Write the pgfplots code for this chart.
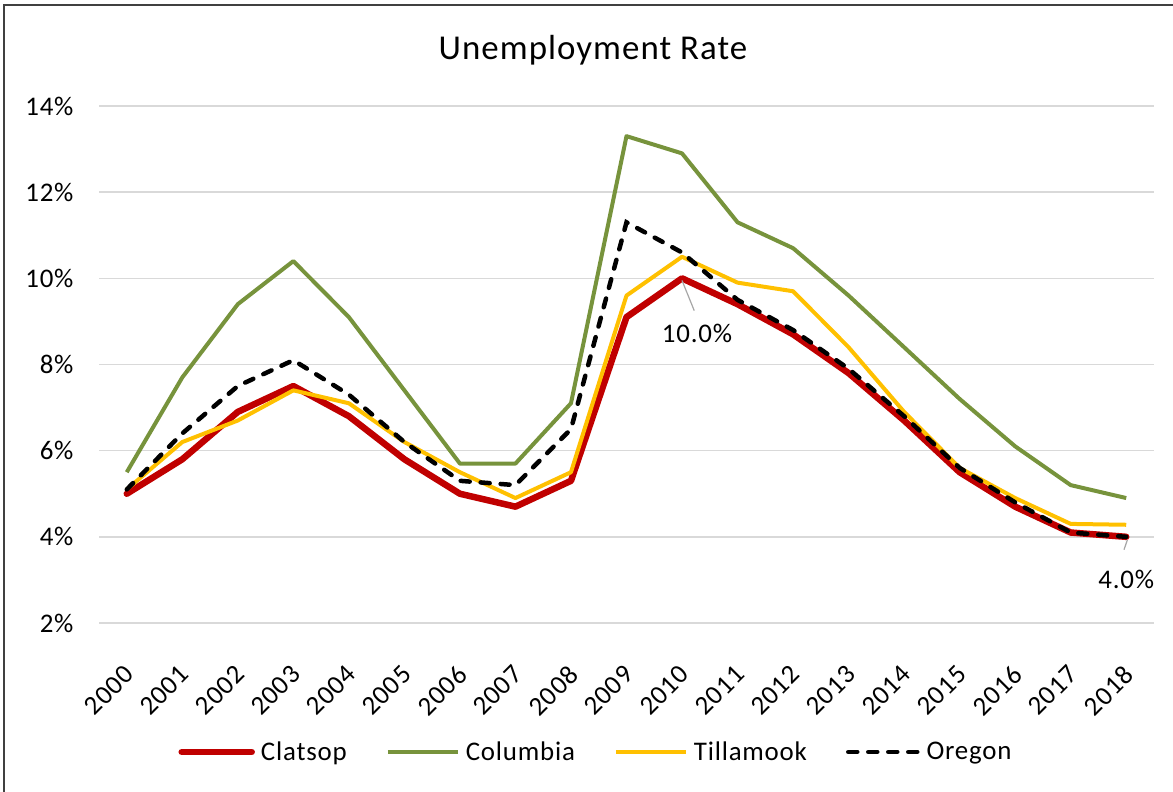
\documentclass[border=0pt]{standalone}
\usepackage{pgfplots}
\pgfplotsset{compat=1.18}
\usepackage{fontspec}
\setmainfont{Carlito}[LetterSpace=3]
\definecolor{cred}{HTML}{C00000}
\definecolor{cgreen}{HTML}{77933C}
\definecolor{cyellow}{HTML}{FFC000}
\definecolor{cgrid}{HTML}{D9D9D9}
\begin{document}
\begin{tikzpicture}
\useasboundingbox (0,0) rectangle (1173bp,792bp);
\draw[black!75, line width=1.6bp] (4bp,0) -- (4bp,787bp) -- (1173bp,787bp);
\node[font=\fontsize{35}{40}\selectfont] at (593bp,742bp) {Unemployment Rate};
\begin{axis}[
  at={(99bp,169bp)}, anchor=south west,
  scale only axis, width=1055bp, height=517bp,
  xmin=-0.5, xmax=18.5, ymin=2, ymax=14,
  axis line style={draw=none},
  ytick={2,4,...,14},
  yticklabels={2\%,4\%,6\%,8\%,10\%,12\%,14\%},
  xtick={0,...,18},
  xticklabels={2000,2001,2002,2003,2004,2005,2006,2007,2008,2009,2010,2011,2012,2013,2014,2015,2016,2017,2018},
  major tick length=0pt,
  ymajorgrids, grid style={cgrid, line width=1.5bp},
  tick label style={font=\fontsize{27}{32}\selectfont},
  yticklabel style={xshift=-22bp},
  xticklabel style={xshift=-4bp, yshift=-36bp, rotate=45, anchor=north east},
  legend columns=4,
  legend style={draw=none, at={(0.473,-0.2495)}, anchor=center,
    font=\fontsize{27}{32}\selectfont,
    /tikz/every even column/.append style={column sep=33bp},
    nodes={inner xsep=6bp}},
  legend image code/.code={\draw[#1] (0bp,0bp) -- (70bp,0bp);},
  clip=false,
]
\addplot[cred, line width=6.5bp, line cap=round, line join=round] coordinates {
(0,5.0) (1,5.8) (2,6.9) (3,7.5) (4,6.8) (5,5.8) (6,5.0) (7,4.7) (8,5.3) (9,9.1)
(10,10.0) (11,9.4) (12,8.7) (13,7.8) (14,6.7) (15,5.5) (16,4.7) (17,4.1) (18,4.0)};
\addlegendentry{Clatsop}
\addplot[cgreen, line width=4bp, line join=round] coordinates {
(0,5.5) (1,7.7) (2,9.4) (3,10.4) (4,9.1) (5,7.4) (6,5.7) (7,5.7) (8,7.1) (9,13.3)
(10,12.9) (11,11.3) (12,10.7) (13,9.6) (14,8.4) (15,7.2) (16,6.1) (17,5.2) (18,4.9)};
\addlegendentry{Columbia}
\addplot[cyellow, line width=4bp, line join=round] coordinates {
(0,5.1) (1,6.2) (2,6.7) (3,7.4) (4,7.1) (5,6.2) (6,5.5) (7,4.9) (8,5.5) (9,9.6)
(10,10.5) (11,9.9) (12,9.7) (13,8.4) (14,6.9) (15,5.6) (16,4.9) (17,4.3) (18,4.28)};
\addlegendentry{Tillamook}
\addplot[black, line width=4.5bp, line cap=round, dash pattern=on 9bp off 11bp] coordinates {
(0,5.1) (1,6.4) (2,7.5) (3,8.1) (4,7.3) (5,6.2) (6,5.3) (7,5.2) (8,6.5) (9,11.3)
(10,10.6) (11,9.5) (12,8.8) (13,7.9) (14,6.8) (15,5.6) (16,4.8) (17,4.1) (18,4.0)};
\addlegendentry{Oregon}
\draw[gray!70, line width=1.2bp] (axis cs:10,9.95) -- (axis cs:10.22,9.25);
\node[font=\fontsize{27}{32}\selectfont] at (axis cs:10.27,8.73) {10.0\%};
\draw[gray!70, line width=1.2bp] (axis cs:18.02,3.93) -- (axis cs:17.96,3.7);
\node[font=\fontsize{27}{32}\selectfont] at (axis cs:18,3.02) {4.0\%};
\end{axis}
\end{tikzpicture}
\end{document}
